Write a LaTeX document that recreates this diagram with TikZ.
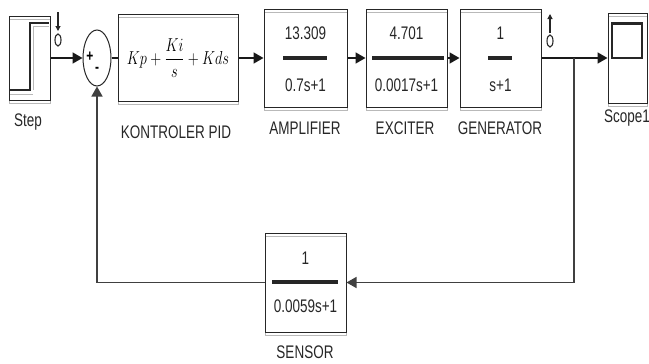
\documentclass[tikz,border=0pt]{standalone}
\usepackage{amsmath,amssymb}
\usepackage{graphicx}
\usepackage{fontspec}
\setmainfont{Liberation Sans}
\usetikzlibrary{arrows.meta,calc,positioning,shapes.geometric}
\newcommand{\tall}[1]{\scalebox{1}[1.35]{#1}}
\tikzset{
  blk/.style={draw=black!85,line width=1pt,inner sep=0pt,
    preaction={draw=gray!55,line width=1pt,transform canvas={yshift=-3pt}}},
  sig/.style={line width=1.7pt,black!90,-{Triangle[length=10pt,width=11pt]}},
  wire/.style={line width=1.7pt,black!90},
  fbsig/.style={line width=1.4pt,black!75,-{Triangle[length=10pt,width=11pt]}},
  fracbar/.style={line width=3.2pt,black!85},
  num/.style={font=\fontsize{13.5}{16}\selectfont,text=black!85,inner sep=0pt},
  lbl/.style={font=\fontsize{13.5}{16}\selectfont,text=black!85,inner sep=0pt},
  glyph/.style={line width=1.1pt,black!85},
}

\begin{document}
\begin{tikzpicture}[x=1pt,y=-1pt]
    \useasboundingbox (0,0) rectangle (649,364);
    % ---------------- forward path ----------------
    \node[blk,minimum width=41pt,minimum height=84pt] (step) at (29.5,58) {};
    \draw[glyph] (10,90) -- (30,90) -- (30,23) -- (49,23);
    \draw[gray!55,line width=1pt] (10,94) -- (33,94) (33,90) -- (33,26) -- (49,26);
    \node[lbl] (steplbl) at (28,122) {\tall{Step}};
    % test point on the step output
    \draw[glyph,-{Triangle[length=5pt,width=5pt]}] (58,12) -- (58,31);
    \draw[glyph] (58,40) ellipse (3pt and 6pt);
    % sum block
    \node[draw=black!85,line width=1pt,ellipse,minimum width=28pt,minimum height=56pt,inner sep=0pt] (sum) at (97,58) {};
    \node[font=\bfseries\fontsize{12}{14}\selectfont] (plus) at (90,57) {\tall{+}};
    \node[font=\bfseries\fontsize{12}{14}\selectfont] (minus) at (97,70) {\tall{-}};
    % pid controller
    \node[blk,minimum width=120pt,minimum height=87pt] (pid) at (178,58) {};
    \node[font=\fontsize{14}{17}\selectfont,inner sep=0pt] (pidtf) at (pid.center) {\scalebox{1}[1.3]{$Kp+\dfrac{Ki}{s}+Kds$}};
    \node[lbl] (pidlbl) at (176,132) {\tall{KONTROLER PID}};
    % amplifier
    \node[blk,minimum width=83pt,minimum height=98pt] (amp) at (305.5,58) {};
    \node[num] (ampn) at (305.5,33) {\tall{13.309}};
    \node[num] (ampd) at (305.5,85) {\tall{0.7s+1}};
    \draw[fracbar] (283,58) -- (327,58);
    \node[lbl] (amplbl) at (305,128) {\tall{AMPLIFIER}};
    % exciter
    \node[blk,minimum width=81pt,minimum height=98pt] (exc) at (406.5,58) {};
    \node[num] (excn) at (406.5,33) {\tall{4.701}};
    \node[num] (excd) at (406.5,85) {\tall{0.0017s+1}};
    \draw[fracbar] (372,58) -- (444,58);
    \node[lbl] (exclbl) at (405,128) {\tall{EXCITER}};
    % generator
    \node[blk,minimum width=81pt,minimum height=98pt] (gen) at (500.5,58) {};
    \node[num] (genn) at (500.5,33) {\tall{1}};
    \node[num] (gend) at (500.5,85) {\tall{s+1}};
    \draw[fracbar] (488,58) -- (512,58);
    \node[lbl] (genlbl) at (500,128) {\tall{GENERATOR}};
    % test point on the generator output
    \draw[glyph,-{Triangle[length=5pt,width=5pt]}] (550,33) -- (550,14);
    \draw[glyph] (550,41) ellipse (3pt and 6pt);
    % scope
    \node[blk,minimum width=39pt,minimum height=90pt] (scope) at (627.5,58) {};
    \draw[glyph] (612,23) rectangle (642,58);
    \draw[black!85,line width=2pt] (612,24) -- (642,24);
    \node[lbl] (scopelbl) at (627,118) {\tall{Scope1}};
    % ---------------- feedback ----------------
    \node[blk,minimum width=81pt,minimum height=99pt] (sensor) at (305.5,282.5) {};
    \node[num] (sensn) at (305.5,258) {\tall{1}};
    \node[num] (sensd) at (305.5,306) {\tall{0.0059s+1}};
    \draw[fracbar] (272,282) -- (338,282);
    \node[lbl] (senslbl) at (305,352) {\tall{SENSOR}};
    \coordinate (branch) at (574,58);
    % ---------------- connectors ----------------
    \draw[sig] (step.east) -- (sum.west);
    \draw[wire] (sum.east) -- (pid.west);
    \draw[sig] (pid.east) -- (amp.west);
    \draw[sig] (amp.east) -- (exc.west);
    \draw[sig] (exc.east) -- (gen.west);
    \draw[wire] (gen.east) -- (branch);
    \draw[sig] (branch) -- (scope.west);
    \draw[fbsig] (branch) |- (sensor.east);
    \draw[fbsig] (sensor.west) -| (sum.south);
\end{tikzpicture}
\end{document}
